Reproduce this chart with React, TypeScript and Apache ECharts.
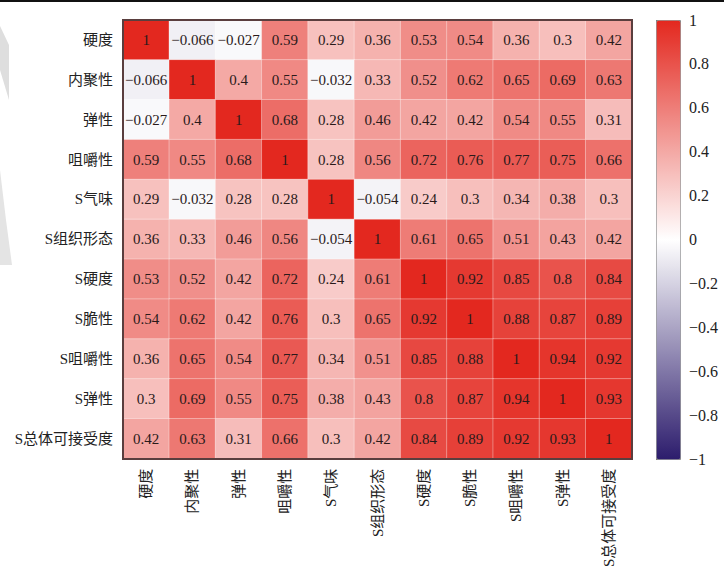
import React, { useEffect, useRef } from "react";
import * as echarts from "echarts";

const labels = ["硬度", "内聚性", "弹性", "咀嚼性", "S气味", "S组织形态", "S硬度", "S脆性", "S咀嚼性", "S弹性", "S总体可接受度"];

const rowHardness = [1, -0.066, -0.027, 0.59, 0.29, 0.36, 0.53, 0.54, 0.36, 0.3, 0.42];
const rowCohesion = [-0.066, 1, 0.4, 0.55, -0.032, 0.33, 0.52, 0.62, 0.65, 0.69, 0.63];
const rowSpringiness = [-0.027, 0.4, 1, 0.68, 0.28, 0.46, 0.42, 0.42, 0.54, 0.55, 0.31];
const rowChewiness = [0.59, 0.55, 0.68, 1, 0.28, 0.56, 0.72, 0.76, 0.77, 0.75, 0.66];
const rowSOdor = [0.29, -0.032, 0.28, 0.28, 1, -0.054, 0.24, 0.3, 0.34, 0.38, 0.3];
const rowSTexture = [0.36, 0.33, 0.46, 0.56, -0.054, 1, 0.61, 0.65, 0.51, 0.43, 0.42];
const rowSHardness = [0.53, 0.52, 0.42, 0.72, 0.24, 0.61, 1, 0.92, 0.85, 0.8, 0.84];
const rowSCrisp = [0.54, 0.62, 0.42, 0.76, 0.3, 0.65, 0.92, 1, 0.88, 0.87, 0.89];
const rowSChew = [0.36, 0.65, 0.54, 0.77, 0.34, 0.51, 0.85, 0.88, 1, 0.94, 0.92];
const rowSSpring = [0.3, 0.69, 0.55, 0.75, 0.38, 0.43, 0.8, 0.87, 0.94, 1, 0.93];
const rowSOverall = [0.42, 0.63, 0.31, 0.66, 0.3, 0.42, 0.84, 0.89, 0.92, 0.93, 1];

const matrix = [rowHardness, rowCohesion, rowSpringiness, rowChewiness, rowSOdor, rowSTexture, rowSHardness, rowSCrisp, rowSChew, rowSSpring, rowSOverall];

const colorStops = ["#2c1c6c", "#ffffff", "#e3281f"];

const fmt = (v: number) => {
  const r = Math.round(v * 1000) / 1000;
  return r < 0 ? "\u2212" + String(Math.abs(r)) : String(r);
};

const FONT = "'Liberation Serif', 'Noto Sans CJK SC', serif";

export default function App() {
  const ref = useRef<HTMLDivElement>(null);
  useEffect(() => {
    document.body.style.margin = "0";
    const chart = echarts.init(ref.current!, null, { renderer: "svg" });
    const data: [number, number, number][] = [];
    matrix.forEach((row, r) => row.forEach((v, c) => data.push([c, r, v])));
    chart.setOption({
      animation: false,
      backgroundColor: "#ffffff",
      textStyle: { fontFamily: FONT },
      grid: [
        { left: 123, top: 20, width: 509, height: 439 },
        { left: 656, top: 20, width: 24, height: 439 },
      ],
      xAxis: [
        {
          type: "category",
          data: labels,
          gridIndex: 0,
          position: "bottom",
          axisLine: { show: false },
          axisTick: { show: false },
          axisLabel: { rotate: 90, color: "#222", fontSize: 15, margin: 10, fontFamily: FONT },
          splitLine: { show: false },
        },
        { type: "value", gridIndex: 1, show: false },
      ],
      yAxis: [
        {
          type: "category",
          data: labels,
          inverse: true,
          gridIndex: 0,
          axisLine: { show: false },
          axisTick: { show: false },
          axisLabel: { color: "#222", fontSize: 15, margin: 10, fontFamily: FONT },
          splitLine: { show: false },
        },
        {
          type: "value",
          gridIndex: 1,
          min: -1,
          max: 1,
          interval: 0.2,
          position: "right",
          axisLine: { show: false },
          axisTick: { show: true, length: 7, lineStyle: { color: "#555", width: 1 } },
          axisLabel: {
            color: "#222",
            fontSize: 16,
            margin: 9,
            fontFamily: FONT,
            formatter: (v: number) => fmt(Number(v.toFixed(1))),
          },
          splitLine: { show: false },
        },
      ],
      visualMap: {
        type: "continuous",
        min: -1,
        max: 1,
        left: 656,
        top: 20,
        itemWidth: 24,
        itemHeight: 439,
        padding: 0,
        text: ["", ""],
        calculable: false,
        realtime: false,
        hoverLink: false,
        seriesIndex: 0,
        borderColor: "#8a8a8a",
        borderWidth: 1,
        inRange: { color: colorStops },
      },
      series: [
        {
          type: "heatmap",
          xAxisIndex: 0,
          yAxisIndex: 0,
          data,
          label: {
            show: true,
            color: "#2a1a1a",
            fontSize: 15,
            fontFamily: FONT,
            formatter: (p: any) => fmt(p.value[2]),
          },
          itemStyle: { borderColor: "rgba(255,255,255,0.35)", borderWidth: 1 },
          emphasis: { disabled: true },
        },
      ],
      graphic: [
        { type: "rect", shape: { x: 0, y: 0, width: 724, height: 2 }, style: { fill: "#111" }, z: 100 },
        {
          type: "rect",
          shape: { x: 123, y: 20, width: 509, height: 439 },
          style: { fill: "none", stroke: "#5a3e3e", lineWidth: 2 },
          z: 100,
          silent: true,
        },
        {
          type: "polygon",
          shape: { points: [[0, 26], [9, 45], [9, 100], [0, 70]] },
          style: { fill: "#dedede" },
          z: -1,
          silent: true,
        },
        {
          type: "polygon",
          shape: { points: [[0, 170], [6, 220], [12, 265], [0, 265]] },
          style: { fill: "#e4e4e4" },
          z: -1,
          silent: true,
        },
      ],
    });
    return () => chart.dispose();
  }, []);
  return <div ref={ref} style={{ width: 724, height: 570 }} />;
}
